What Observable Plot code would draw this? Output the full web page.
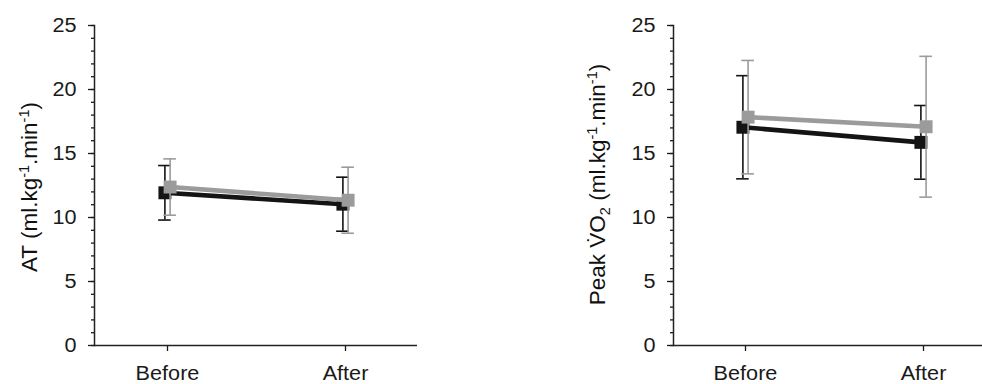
<!DOCTYPE html>
<html><head><meta charset="utf-8">
<script src="https://cdn.jsdelivr.net/npm/d3@7"></script>
<script src="https://cdn.jsdelivr.net/npm/@observablehq/plot@0.6"></script>
<style>
html,body{margin:0;padding:0;background:#fff;overflow:hidden}
#wrap{position:relative;width:982px;height:384px;overflow:hidden;background:#fff}
#wrap svg{position:absolute;top:0}
</style></head><body><div id="wrap"></div>
<script>
// ---- data ----
const phases = ["Before", "After"];
const seriesNames = ["black", "gray"];
const seriesColors = ["#141414", "#9b9b9b"];

const atBlackMean = [11.93, 11.04];
const atBlackSD   = [2.13, 2.11];
const atGrayMean  = [12.38, 11.35];
const atGraySD    = [2.2, 2.58];

const vo2BlackMean = [17.05, 15.87];
const vo2BlackSD   = [4.03, 2.88];
const vo2GrayMean  = [17.84, 17.09];
const vo2GraySD    = [4.43, 5.5];

const yMajorTicks = [0, 5, 10, 15, 20, 25];
const yMinorTicks = d3.range(0, 26);

// label parts: [text, kind] kind: "" normal, "sup", "sub"
const atLabel  = [["AT (ml.kg",""],["-1","sup"],[".min",""],["-1","sup"],[")",""]];
const vo2Label = [["Peak V\u0307O",""],["2","sub"],[" (ml.kg",""],["-1","sup"],[".min",""],["-1","sup"],[")",""]];

const FONT = "'Liberation Sans', Arial, sans-serif";
const TICK_FONT = 19.5;
const TEXT_STRETCH = 1.11;

function panel({means, sds, labelParts, left, width, marginLeft, marginRight, labelDx, labelDy}) {
  const marks = [];
  // axes
  marks.push(Plot.axisY(yMinorTicks, {tickSize: 3, tickFormat: () => "", label: null, strokeWidth: 1.3}));
  marks.push(Plot.axisY(yMajorTicks, {tickSize: 6, tickPadding: 12, label: null, strokeWidth: 1.3, fontSize: TICK_FONT}));
  marks.push(Plot.axisX(phases, {tickSize: 6, tickPadding: 15, label: null, strokeWidth: 1.3, fontSize: TICK_FONT}));
  marks.push(Plot.frame({anchor: "left", strokeWidth: 1.5, stroke: "#222"}));
  marks.push(Plot.ruleY([0], {strokeWidth: 1.5, stroke: "#222"}));

  seriesNames.forEach((s, si) => {
    const rows = phases.map((p, i) => ({phase: p, mean: means[si][i], sd: sds[si][i]}));
    const color = seriesColors[si];
    const dx = si === 0 ? -2.6 : 2.6;
    marks.push(Plot.ruleX(rows, {x: "phase", y1: d => d.mean - d.sd, y2: d => d.mean + d.sd, stroke: color, strokeWidth: 1.6, dx}));
    marks.push(Plot.ruleY(rows, {x1: "phase", x2: "phase", y: d => d.mean + d.sd, stroke: color, strokeWidth: 1.6, insetLeft: -6.3, insetRight: -6.3, dx}));
    marks.push(Plot.ruleY(rows, {x1: "phase", x2: "phase", y: d => d.mean - d.sd, stroke: color, strokeWidth: 1.6, insetLeft: -6.3, insetRight: -6.3, dx}));
    marks.push(Plot.line(rows, {x: "phase", y: "mean", stroke: color, strokeWidth: 4.6, dx}));
    marks.push(Plot.dot(rows, {x: "phase", y: "mean", symbol: "square", r: 7.3, fill: color, stroke: "none", dx}));
  });

  const plainLabel = labelParts.map(d => d[0]).join("");
  marks.push(Plot.text([plainLabel], {text: d => d, frameAnchor: "left", textAnchor: "middle", rotate: -90, dx: labelDx, dy: labelDy, fontSize: 22.5, fill: "#111"}));

  const svg = Plot.plot({
    width, height: 384,
    marginLeft, marginRight, marginTop: 25, marginBottom: 39,
    style: {fontFamily: FONT, fontSize: TICK_FONT + "px", color: "#1a1a1a", background: "transparent"},
    x: {type: "point", domain: phases, padding: 0.403},
    y: {domain: [0, 25]},
    marks
  });
  svg.style.left = left + "px";

  // widen tick label glyphs slightly (reference type is wider than Arial)
  d3.select(svg).selectAll('g[aria-label="y-axis tick label"] text, g[aria-label="x-axis tick label"] text').each(function() {
    const t = this.getAttribute("transform");
    if (t) this.setAttribute("transform", `${t} scale(${TEXT_STRETCH},1)`);
  });

  // rich label with superscripts/subscripts
  d3.select(svg).selectAll('g[aria-label="text"] text').each(function() {
    const el = d3.select(this);
    el.text(null);
    let shift = 0;
    labelParts.forEach(([str, kind]) => {
      const target = kind === "sup" ? -8 : kind === "sub" ? 5 : 0;
      const ts = el.append("tspan").text(str).attr("dy", target - shift);
      if (kind) ts.attr("font-size", "14.5px");
      shift = target;
    });
  });
  return svg;
}

const wrap = document.getElementById("wrap");
wrap.appendChild(panel({
  means: [atBlackMean, atGrayMean], sds: [atBlackSD, atGraySD], labelParts: atLabel,
  left: 0, width: 491, marginLeft: 94, marginRight: 74, labelDx: -64.5, labelDy: 1.5
}));
wrap.appendChild(panel({
  means: [vo2BlackMean, vo2GrayMean], sds: [vo2BlackSD, vo2GraySD], labelParts: vo2Label,
  left: 491, width: 512, marginLeft: 182, marginRight: 8, labelDx: -75.7, labelDy: -1
}));
</script></body></html>
